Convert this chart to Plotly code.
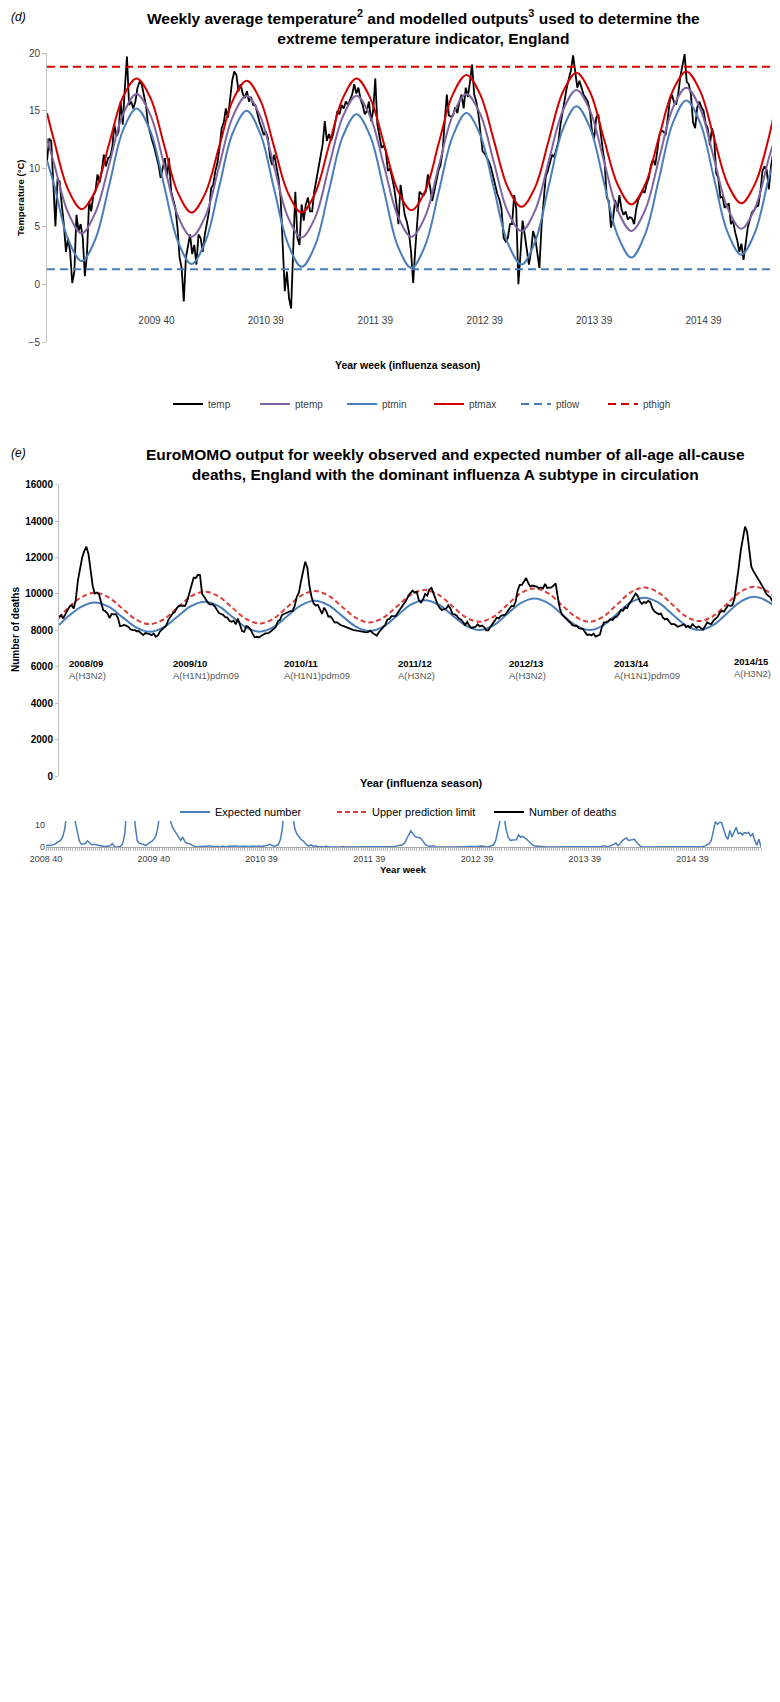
import plotly.graph_objects as go

# ---- panel (d): weekly temperature, 2008 wk40 .. 2015 wk20 (346 weeks) ----
temp = [
    10.6, 12.6, 12.4, 9.0, 5.0, 9.0, 8.9, 6.9, 5.2, 2.8,
    4.0, 2.8, 0.1, 1.1, 6.0, 4.6, 5.2, 4.0, 0.7, 2.6,
    7.2, 6.3, 7.7, 8.0, 9.5, 8.8, 9.8, 11.2, 10.2, 10.9,
    11.0, 11.8, 13.8, 12.8, 13.2, 15.8, 13.8, 17.0, 19.7, 15.5,
    15.8, 15.2, 15.8, 17.0, 17.5, 17.3, 16.4, 15.5, 13.8, 13.0,
    12.4, 11.8, 11.0, 10.3, 9.2, 10.0, 10.9, 9.2, 10.9, 8.0,
    7.2, 6.6, 4.9, 2.3, 1.4, -1.5, 2.3, 3.4, 4.3, 2.6,
    3.4, 1.7, 4.3, 4.0, 2.8, 4.3, 5.4, 6.3, 8.3, 8.6,
    9.8, 10.5, 11.8, 13.5, 14.0, 15.2, 14.4, 16.0, 17.6, 18.4,
    18.1, 16.7, 17.3, 16.5, 16.1, 16.7, 15.8, 16.2, 15.5, 15.5,
    14.7, 14.0, 13.5, 12.9, 13.2, 12.6, 11.0, 10.3, 11.2, 10.0,
    9.2, 7.5, 2.6, -0.6, 1.1, -1.2, -2.1, 2.6, 8.0, 4.0,
    3.4, 6.9, 5.5, 6.9, 7.5, 6.3, 6.3, 8.0, 9.0, 9.8,
    11.0, 12.1, 14.1, 12.4, 13.0, 12.4, 13.0, 14.1, 15.0, 14.7,
    15.5, 15.2, 15.8, 15.5, 15.9, 16.4, 17.3, 16.5, 17.0, 16.0,
    15.5, 14.7, 15.0, 15.8, 14.1, 15.0, 17.8, 13.8, 12.8, 11.8,
    12.0, 11.5, 9.8, 10.0, 9.2, 8.3, 7.0, 5.2, 8.6, 7.5,
    6.0, 5.4, 4.5, 2.8, 0.1, 3.0, 5.5, 8.0, 7.8, 7.7,
    8.0, 9.5, 8.5, 7.2, 8.0, 8.9, 9.8, 10.3, 11.5, 14.1,
    16.4, 14.6, 14.5, 14.6, 15.3, 14.8, 15.8, 16.4, 15.2, 17.0,
    16.2, 17.5, 19.0, 16.4, 15.8, 14.7, 13.0, 11.5, 11.3, 11.0,
    10.6, 10.1, 9.3, 8.6, 7.8, 7.3, 6.5, 4.0, 3.7, 4.0,
    5.2, 5.2, 7.7, 6.5, 0.0, 2.6, 5.5, 4.3, 3.0, 1.7,
    2.8, 4.6, 4.0, 2.5, 1.4, 5.0, 7.5, 9.3, 9.8, 10.4,
    11.2, 11.0, 11.6, 12.3, 13.8, 15.0, 16.0, 17.0, 17.8, 18.5,
    19.8, 18.4, 17.0, 17.6, 16.9, 16.4, 16.1, 15.8, 15.0, 13.2,
    12.6, 14.4, 14.7, 13.0, 11.8, 10.5, 7.5, 7.2, 4.9, 5.7,
    7.3, 6.3, 7.7, 6.5, 6.0, 6.3, 5.6, 5.8, 5.7, 5.2,
    6.5, 7.3, 7.7, 8.1, 7.9, 8.7, 9.2, 10.3, 10.8, 10.3,
    11.5, 12.9, 13.3, 13.2, 12.9, 14.5, 15.9, 16.4, 15.7, 15.6,
    16.5, 18.0, 19.0, 19.9, 17.5, 17.3, 16.4, 14.0, 13.5, 15.3,
    15.8, 15.3, 15.0, 13.9, 13.5, 12.0, 13.5, 12.8, 9.6, 9.2,
    7.5, 7.6, 6.6, 6.8, 7.0, 5.2, 5.5, 4.5, 3.8, 2.8,
    3.5, 2.1, 3.7, 4.9, 5.6, 6.2, 6.4, 6.7, 6.8, 8.0,
    9.8, 10.2, 9.9, 8.2, 10.1, 11.3,
]

# modelled curves, read at roughly 1/8-season steps
model_weeks = [
    0, 3.4, 10.0, 16.5, 23.0, 29.6, 36.1, 42.6, 49.2, 55.7, 62.2,
    68.7, 75.3, 81.8, 88.3, 94.9, 101.4, 107.9, 114.5, 121.0, 127.5,
    134.0, 140.6, 147.1, 153.6, 160.2, 166.7, 173.2, 179.8, 186.3, 192.8,
    199.3, 205.9, 212.4, 218.9, 225.5, 232.0, 238.5, 245.1, 251.6, 258.1,
    264.6, 271.2, 277.7, 284.2, 290.8, 297.3, 303.8, 310.4, 316.9, 323.4,
    329.9, 336.5, 343.0, 345,
]
ptmax = [
    14.8, 12.4, 8.2, 6.5, 8.1, 12.2, 16.2, 17.8, 16.1, 12.0, 7.9,
    6.2, 7.9, 11.9, 15.9, 17.6, 15.9, 11.9, 7.9, 6.2, 7.9,
    12.0, 16.1, 17.8, 16.1, 12.1, 8.1, 6.4, 8.1, 12.3, 16.4,
    18.1, 16.4, 12.4, 8.4, 6.7, 8.4, 12.5, 16.6, 18.3, 16.6,
    12.6, 8.6, 6.9, 8.6, 12.7, 16.7, 18.4, 16.7, 12.7, 8.7,
    7.0, 8.7, 12.7, 14.3,
]
ptemp = [
    12.6, 10.4, 6.2, 4.4, 6.2, 10.4, 14.7, 16.45, 14.6, 10.3, 5.9,
    4.1, 5.9, 10.2, 14.5, 16.3, 14.5, 10.2, 5.8, 4.05, 5.8,
    10.2, 14.5, 16.3, 14.5, 10.2, 5.9, 4.1, 5.9, 10.3, 14.6,
    16.45, 14.7, 10.5, 6.3, 4.6, 6.4, 10.7, 15.0, 16.8, 15.0,
    10.7, 6.4, 4.6, 6.4, 10.8, 15.2, 17.0, 15.2, 10.9, 6.6,
    4.8, 6.6, 10.9, 12.1,
]
ptmin = [
    10.7, 8.6, 3.9, 2.0, 3.9, 8.6, 13.3, 15.2, 13.2, 8.5, 3.7,
    1.75, 3.7, 8.4, 13.1, 15.0, 13.0, 8.25, 3.5, 1.5, 3.4,
    8.1, 12.8, 14.7, 12.8, 8.05, 3.3, 1.4, 3.4, 8.1, 12.8,
    14.8, 12.9, 8.25, 3.6, 1.7, 3.7, 8.55, 13.4, 15.4, 13.5,
    8.85, 4.2, 2.3, 4.3, 9.1, 13.9, 15.9, 13.95, 9.2, 4.5,
    2.55, 4.5, 9.2, 10.3,
]
ptlow = 1.3
pthigh = 18.8

temp_tick_weeks = [52, 104, 156, 208, 260, 312]
temp_tick_text = ["2009 40", "2010 39", "2011 39", "2012 39", "2013 39", "2014 39"]

# ---- panel (e): EuroMOMO weekly deaths ----
deaths = [
    8745, 8836, 8654, 8900, 9100, 9295, 9386, 9203, 9700, 10750,
    11500, 12000, 12350, 12592, 12200, 11200, 10450, 10027, 10080, 9980,
    9600, 9112, 9050, 8940, 8680, 8900, 8880, 8890, 8690, 8230,
    8260, 8300, 8250, 8190, 8060, 8012, 8012, 7950, 7950, 7860,
    7738, 7850, 7830, 7800, 7738, 7820, 7650, 7720, 7940, 8050,
    8160, 8270, 8580, 8730, 8930, 9000, 9220, 9350, 9360, 9340,
    9350, 9650, 10030, 10486, 10900, 10870, 11050, 11035, 10000, 9850,
    9660, 9478, 9420, 9440, 9320, 9140, 8950, 8900, 8850, 8720,
    8700, 8530, 8470, 8530, 8330, 8650, 8287, 7960, 7920, 8230,
    8196, 8050, 7820, 7620, 7646, 7610, 7690, 7780, 7829, 7830,
    7880, 7980, 8060, 8180, 8500, 8580, 8850, 8900, 8980, 9000,
    9060, 9070, 9340, 9844, 10070, 10700, 11290, 11768, 11450, 10450,
    9850, 9478, 9370, 9400, 9150, 8900, 9250, 9050, 8760, 8760,
    8610, 8430, 8450, 8350, 8280, 8250, 8196, 8140, 8080, 8030,
    8012, 8000, 7970, 7940, 7921, 7900, 7890, 7921, 7980, 7860,
    7770, 7710, 7900, 8020, 8180, 8287, 8600, 8620, 8780, 8790,
    8800, 8970, 9130, 9295, 9470, 9650, 9900, 10027, 10180, 10070,
    10119, 9661, 9530, 9700, 10000, 9900, 10250, 10330, 10000, 9620,
    9400, 9220, 9112, 9170, 9200, 9370, 9203, 8900, 8880, 8800,
    8654, 8600, 8450, 8300, 8470, 8250, 8130, 8180, 8200, 8330,
    8220, 8270, 8180, 8000, 8000, 8190, 8330, 8520, 8700, 8660,
    8800, 8850, 8860, 9020, 9200, 9340, 9320, 9570, 10200, 10500,
    10500, 10669, 10870, 10600, 10400, 10460, 10420, 10400, 10310, 10360,
    10300, 10550, 10330, 10340, 10360, 10460, 10577, 9850, 9200, 8870,
    8745, 8600, 8520, 8420, 8287, 8250, 8260, 8120, 8100, 8070,
    7900, 7750, 7770, 7720, 7810, 7660, 7710, 7760, 8180, 8440,
    8450, 8500, 8620, 8562, 8700, 8750, 8900, 9112, 9080, 9260,
    9220, 9478, 9630, 9870, 10020, 9900, 9600, 9450, 9550, 9510,
    9620, 9550, 9203, 9030, 8960, 8880, 8929, 8700, 8600, 8640,
    8470, 8330, 8350, 8300, 8196, 8250, 8300, 8330, 8170, 8250,
    8150, 8340, 8230, 8140, 8220, 8110, 8040, 8220, 8440, 8370,
    8350, 8530, 8654, 8745, 8960, 9070, 9030, 9203, 9380, 9350,
    9380, 9753, 10500, 11450, 12400, 13100, 13700, 13400, 12300, 11500,
    11250, 11070, 10870, 10680, 10480, 10260, 10027, 9900, 9830, 9600,
    9386, 9250, 9150, 9040, 8929, 8960,
]

baseline_weeks = [
    0, 3.9, 10.5, 17.0, 23.5, 30.1, 36.6, 43.1, 49.7, 56.2, 62.7,
    69.2, 75.8, 82.3, 88.8, 95.4, 101.9, 108.4, 115.0, 121.5, 128.0,
    134.5, 141.1, 147.6, 154.1, 160.7, 167.2, 173.7, 180.3, 186.8, 193.3,
    199.8, 206.4, 212.9, 219.4, 226.0, 232.5, 239.0, 245.6, 252.1, 258.6,
    265.1, 271.7, 278.2, 284.7, 291.3, 297.8, 304.3, 310.8, 317.4, 323.9,
    330.4, 336.9, 343.5, 345,
]
expected = [
    8287, 8717, 9295, 9534, 9299, 8729, 8158, 7923, 8163, 8747, 9330,
    9570, 9330, 8747, 8163, 7923, 8171, 8774, 9376, 9625, 9382,
    8793, 8203, 7960, 8208, 8810, 9412, 9660, 9420, 8838, 8255,
    8015, 8269, 8885, 9500, 9754, 9500, 8885, 8269, 8015, 8274,
    8903, 9531, 9790, 9531, 8903, 8274, 8015, 8282, 8930, 9578,
    9845, 9583, 8945, 8700,
]
upper_limit = [
    8654, 9183, 9808, 10066, 9814, 9204, 8594, 8342, 8602, 9232, 9861,
    10121, 9867, 9250, 8633, 8379, 8639, 9269, 9898, 10158, 9906,
    9296, 8686, 8434, 8694, 9324, 9953, 10213, 9959, 9342, 8724,
    8470, 8738, 9387, 10036, 10304, 10036, 9387, 8738, 8470, 8746,
    9415, 10083, 10359, 10089, 9433, 8777, 8507, 8783, 9452, 10120,
    10396, 10125, 9468, 9200,
]

season_names = ["2008/09", "2009/10", "2010/11", "2011/12", "2012/13", "2013/14", "2014/15"]
season_subtypes = ["A(H3N2)", "A(H1N1)pdm09", "A(H1N1)pdm09", "A(H3N2)", "A(H3N2)", "A(H1N1)pdm09", "A(H3N2)"]

# ---- cropped strip under panel (e) ----
excess = [
    0.5, 0.8, 0.7, 0.9, 1.2, 1.8, 2.5, 3.0, 4.5, 8.0,
    15, 22, 28, 22, 12, 6.7, 3.0, 1.3, 1.5, 1.6,
    2.8, 1.8, 1.0, 1.2, 1.0, 1.0, 0.5, 0.5, 0.2, 0.3,
    0.5, 0.6, 1.5, 0.3, 0.0, 0.0, 0.2, 1.5, 6.0, 18,
    30, 35, 25, 10, 3.0, 1.7, 1.5, 1.2, 0.6, 1.5,
    2.0, 2.5, 3.5, 5.0, 9.0, 16, 25, 32, 28, 20,
    12, 9.0, 7.5, 6.0, 4.0, 3.0, 4.5, 2.5, 1.8, 1.5,
    1.2, 0.5, 0.3, 0.0, 0.2, 0.3, 0.2, 0.4, 0.3, 0.5,
    0.2, 0.3, 0.4, 0.2, 0.0, 0.3, 0.2, 0.0, 0.3, 0.4,
    0.2, 0.3, 0.5, 0.2, 0.3, 0.4, 0.3, 0.2, 0.1, 0.3,
    0.5, 0.2, 0.3, 0.5, 0.2, 0.3, 0.5, 0.8, 1.2, 0.6,
    0.4, 0.6, 1.0, 3.0, 8.0, 18, 28, 32, 25, 15,
    8.5, 6.0, 4.5, 3.5, 2.8, 1.8, 0.8, 0.5, 1.0, 0.3,
    0.6, 0.2, 0.0, 0.2, 0.0, 0.3, 0.0, 0.0, 0.0, 0.1,
    0.0, 0.0, 0.0, 0.2, 0.0, 0.0, 0.0, 0.1, 0.0, 0.0,
    0.0, 0.0, 0.2, 0.0, 0.0, 0.0, 0.0, 0.1, 0.0, 0.0,
    0.0, 0.0, 0.0, 0.2, 0.0, 0.0, 0.1, 0.3, 0.2, 0.4,
    0.6, 0.8, 1.0, 1.8, 3.5, 5.5, 7.3, 6.2, 4.8, 4.4,
    4.3, 3.8, 2.5, 1.2, 0.6, 0.3, 0.4, 0.6, 0.1, 0.0,
    0.0, 0.0, 0.0, 0.0, 0.1, 0.0, 0.0, 0.0, 0.0, 0.0,
    0.1, 0.0, 0.0, 0.0, 0.0, 0.0, 0.0, 0.0, 0.0, 0.3,
    0.5, 0.3, 0.1, 0.0, 0.2, 0.6, 1.0, 3.0, 7.0, 11,
    16, 14, 8.0, 4.5, 3.0, 3.2, 3.1, 3.3, 5.5, 4.5,
    4.8, 4.2, 3.5, 2.5, 1.5, 0.8, 0.4, 0.3, 0.1, 0.0,
    0.0, 0.0, 0.0, 0.0, 0.0, 0.0, 0.0, 0.0, 0.0, 0.0,
    0.0, 0.0, 0.0, 0.0, 0.1, 0.0, 0.0, 0.0, 0.0, 0.0,
    0.0, 0.0, 0.0, 0.0, 0.3, 0.1, 0.0, 0.0, 0.2, 0.4,
    0.5, 0.0, 0.3, 0.8, 1.2, 1.8, 0.6, 1.5, 2.8, 3.5,
    4.2, 3.0, 3.2, 3.3, 3.5, 2.0, 1.0, 0.2, 0.0, 0.0,
    0.0, 0.0, 0.0, 0.0, 0.0, 0.0, 0.0, 0.0, 0.0, 0.0,
    0.0, 0.0, 0.0, 0.0, 0.0, 0.0, 0.0, 0.0, 0.0, 0.0,
    0.0, 0.0, 0.0, 0.2, 0.3, 0.1, 0.0, 0.2, 0.5, 1.0,
    1.5, 3.0, 7.0, 11.5, 10.3, 11.2, 11.0, 8.0, 5.0, 3.5,
    7.5, 4.5, 6.5, 9.0, 6.0, 6.5, 5.5, 6.5, 6.3, 6.6,
    5.0, 6.0, 3.0, 0.8, 3.5, 0.0,
]
strip_tick_weeks = [0, 52, 104, 156, 208, 260, 312]
strip_tick_text = ["2008 40", "2009 40", "2010 39", "2011 39", "2012 39", "2013 39", "2014 39"]

W, H = 780, 1702
FONT = "Liberation Sans, Arial, sans-serif"
BLUE = "#4a7ebb"
RED = "#d40000"
PURPLE = "#8064a2"


def px(x):  # pixel -> paper x
    return x / W


def py(y):  # pixel from top -> paper y
    return 1 - y / H


weeks = list(range(len(temp)))
dweeks = list(range(len(deaths)))
sweeks = list(range(len(excess)))

fig = go.Figure()

# panel (d)
fig.add_trace(go.Scatter(x=weeks, y=temp, name="temp", mode="lines",
                         line=dict(color="black", width=1.8), legend="legend"))
fig.add_trace(go.Scatter(x=model_weeks, y=ptemp, name="ptemp", mode="lines",
                         line=dict(color=PURPLE, width=2, shape="spline"), legend="legend"))
fig.add_trace(go.Scatter(x=model_weeks, y=ptmin, name="ptmin", mode="lines",
                         line=dict(color=BLUE, width=2, shape="spline"), legend="legend"))
fig.add_trace(go.Scatter(x=model_weeks, y=ptmax, name="ptmax", mode="lines",
                         line=dict(color=RED, width=2, shape="spline"), legend="legend"))
fig.add_trace(go.Scatter(x=[weeks[0], weeks[-1]], y=[ptlow, ptlow], name="ptlow", mode="lines",
                         line=dict(color=BLUE, width=2, dash="8px,5px"), legend="legend"))
fig.add_trace(go.Scatter(x=[weeks[0], weeks[-1]], y=[pthigh, pthigh], name="pthigh", mode="lines",
                         line=dict(color=RED, width=2, dash="8px,5px"), legend="legend"))

# panel (e)
fig.add_trace(go.Scatter(x=baseline_weeks, y=expected, name="Expected number", mode="lines",
                         line=dict(color=BLUE, width=2, shape="spline"),
                         xaxis="x2", yaxis="y2", legend="legend2"))
fig.add_trace(go.Scatter(x=baseline_weeks, y=upper_limit, name="Upper prediction limit", mode="lines",
                         line=dict(color="#d9403a", width=2, dash="5px,3px", shape="spline"),
                         xaxis="x2", yaxis="y2", legend="legend2"))
fig.add_trace(go.Scatter(x=dweeks, y=deaths, name="Number of deaths", mode="lines",
                         line=dict(color="black", width=1.8),
                         xaxis="x2", yaxis="y2", legend="legend2"))

# strip
fig.add_trace(go.Scatter(x=sweeks, y=excess, mode="lines", showlegend=False,
                         line=dict(color=BLUE, width=1.5), xaxis="x3", yaxis="y3"))

ann = []


def label(text, x, y, size, bold=False, italic=False, angle=0, color="black", xanchor="center"):
    t = text
    if bold:
        t = "<b>" + t + "</b>"
    if italic:
        t = "<i>" + t + "</i>"
    ann.append(dict(text=t, x=px(x), y=py(y), xref="paper", yref="paper", showarrow=False,
                    xanchor=xanchor, yanchor="middle", textangle=angle,
                    font=dict(size=size, color=color, family=FONT)))


label("(d)", 1, 9, 12, italic=True, xanchor="left")
label("Weekly average temperature<sup>2</sup> and modelled outputs<sup>3</sup> used to determine the<br>"
      "extreme temperature indicator, England", 415, 19, 15.5, bold=True)
label("Temperature (°C)", 13, 190, 9.5, bold=True, angle=-90)
label("Year week (influenza season)", 400, 357, 10.5, bold=True)

label("(e)", 1, 445, 12, italic=True, xanchor="left")
label("EuroMOMO output for weekly observed and expected number of all-age all-cause<br>"
      "deaths, England with the dominant influenza A subtype in circulation", 437, 456, 15.5, bold=True)
label("Number of deaths", 7, 622, 10, bold=True, angle=-90)
label("Year (influenza season)", 413, 775, 11, bold=True)
label("Year week", 395, 861, 9.5, bold=True)

season_pos = [4, 53, 106, 160, 213, 263, 320]
for i, (nm, st) in enumerate(zip(season_names, season_subtypes)):
    ann.append(dict(text="<b>" + nm + "</b><br><span style='color:#595959'>" + st + "</span>",
                    x=season_pos[i], y=6600 if i < 6 else 6700, xref="x2", yref="y2",
                    showarrow=False, xanchor="left", yanchor="top", align="left",
                    font=dict(size=9.5, color="black", family=FONT)))

axis_common = dict(showgrid=False, zeroline=False, automargin=False)

fig.update_layout(
    width=W, height=H,
    margin=dict(l=0, r=0, t=0, b=0, autoexpand=False),
    paper_bgcolor="white", plot_bgcolor="white",
    font=dict(family=FONT, color="#404040"),
    annotations=ann,
    xaxis=dict(domain=[px(39), px(765)], range=[0, 345], anchor="free", position=py(305),
               showline=False, ticks="", tickvals=temp_tick_weeks, ticktext=temp_tick_text,
               tickfont=dict(size=10, color="#404040"), **axis_common),
    yaxis=dict(domain=[py(334), py(45)], range=[-5, 20], anchor="x",
               showline=True, linecolor="#bfbfbf", linewidth=1, ticks="outside", ticklen=4,
               tickcolor="#bfbfbf", tickvals=[-5, 0, 5, 10, 15, 20],
               tickfont=dict(size=10, color="#404040"), **axis_common),
    xaxis2=dict(domain=[px(51), px(777)], range=[0, 345], anchor="y2",
                showline=False, ticks="", showticklabels=False, **axis_common),
    yaxis2=dict(domain=[py(768), py(476.7)], range=[0, 16000], anchor="x2", dtick=2000,
                tickformat="d",
                showline=True, linecolor="#bfbfbf", linewidth=1, ticks="outside", ticklen=3,
                tickcolor="#bfbfbf", tickfont=dict(size=10, color="black", weight="bold"),
                **axis_common),
    xaxis3=dict(domain=[px(38), px(753)], range=[0, 345], anchor="y3",
                showline=True, linecolor="#a6a6a6", linewidth=1, ticks="outside", ticklen=3,
                tickcolor="#a6a6a6", tickvals=strip_tick_weeks, ticktext=strip_tick_text,
                tickfont=dict(size=9, color="#404040"),
                minor=dict(dtick=1, tick0=0, ticks="outside", ticklen=3, tickcolor="#b8b8b8"),
                **axis_common),
    yaxis3=dict(domain=[py(839), py(813)], range=[0, 11.8], anchor="x3",
                showline=False, ticks="", tickvals=[0, 10],
                tickfont=dict(size=9, color="#404040"), **axis_common),
    legend=dict(orientation="h", xref="container", yref="container",
                x=px(160), y=py(396), xanchor="left", yanchor="middle",
                entrywidth=42, entrywidthmode="pixels", itemwidth=30,
                font=dict(size=10, color="#404040"), bgcolor="rgba(0,0,0,0)"),
    legend2=dict(orientation="h", xref="container", yref="container",
                 x=px(167), y=py(804), xanchor="left", yanchor="middle",
                 entrywidth=112, entrywidthmode="pixels",
                 itemwidth=30, font=dict(size=11, color="black"), bgcolor="rgba(0,0,0,0)"),
)

fig.write_html("out.html")
